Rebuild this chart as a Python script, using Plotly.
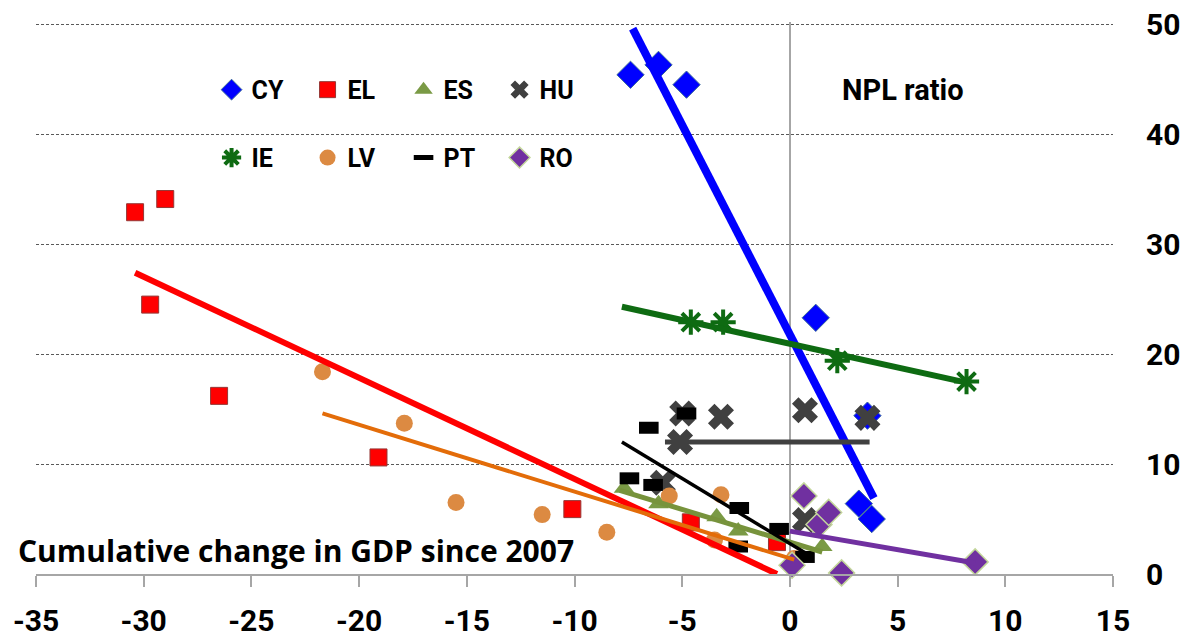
import plotly.graph_objects as go

# Cumulative change in GDP since 2007 (%) and NPL ratio (%), by country
cy_gdp = [-7.4, -6.1, -4.8, 1.2, 3.6, 3.2, 3.8]
cy_npl = [45.4, 46.3, 44.5, 23.3, 14.4, 6.4, 5.0]
el_gdp = [-30.4, -29.7, -29.0, -26.5, -19.1, -10.1, -4.6, -0.6]
el_npl = [32.9, 24.5, 34.1, 16.2, 10.6, 5.9, 4.7, 2.9]
es_gdp = [-7.7, -6.1, -3.4, -2.4, 1.5]
es_npl = [7.8, 6.4, 5.2, 3.9, 2.5]
hu_gdp = [-5.9, -5.1, -5.0, -3.2, 0.7, 0.7, 3.6]
hu_npl = [8.3, 12.0, 14.6, 14.3, 14.9, 4.9, 14.2]
ie_gdp = [-4.6, -3.1, 2.2, 8.2]
ie_npl = [22.9, 22.9, 19.4, 17.5]
lv_gdp = [-21.7, -17.9, -15.5, -11.5, -8.5, -5.6, -3.2, -3.5, 0.2]
lv_npl = [18.4, 13.7, 6.5, 5.4, 3.8, 7.1, 7.2, 3.1, 1.4]
pt_gdp = [-7.45, -6.55, -6.35, -4.8, -2.35, -2.4, -0.5, 0.7]
pt_npl = [8.7, 13.3, 8.1, 14.6, 6.0, 2.5, 4.1, 1.55]
ro_gdp = [0.1, 0.65, 1.35, 1.8, 2.4, 8.6]
ro_npl = [0.8, 7.1, 4.5, 5.6, 0.1, 1.1]

# Linear trend lines (start / end) for each country
cy_fit_gdp, cy_fit_npl = [-7.3, 3.9], [49.6, 6.9]
el_fit_gdp, el_fit_npl = [-30.4, -0.6], [27.4, 0.0]
es_fit_gdp, es_fit_npl = [-7.9, 1.5], [7.6, 2.0]
hu_fit_gdp, hu_fit_npl = [-5.8, 3.7], [12.0, 12.0]
ie_fit_gdp, ie_fit_npl = [-7.8, 8.2], [24.3, 17.4]
lv_fit_gdp, lv_fit_npl = [-21.7, 0.2], [14.6, 1.3]
pt_fit_gdp, pt_fit_npl = [-7.8, 0.9], [12.0, 1.7]
ro_fit_gdp, ro_fit_npl = [0.0, 8.6], [3.9, 1.0]

x_ticks = [-35, -30, -25, -20, -15, -10, -5, 0, 5, 10, 15]
y_ticks = [0, 10, 20, 30, 40, 50]

FONT = "Roboto"

fig = go.Figure()

series = [
    ("CY", cy_gdp, cy_npl, "legend",
     dict(symbol="diamond", size=21, color="#0000FF", line=dict(color="#3A6A9A", width=1))),
    ("EL", el_gdp, el_npl, "legend",
     dict(symbol="square", size=17, color="#FF0000", line=dict(color="#953735", width=1))),
    ("ES", es_gdp, es_npl, "legend",
     dict(symbol="triangle-up", size=18, color="#7A9A45", line=dict(width=0))),
    ("HU", hu_gdp, hu_npl, "legend",
     dict(symbol="x", size=23, color="#404040", line=dict(width=0))),
    ("IE", ie_gdp, ie_npl, "legend2",
     dict(symbol="asterisk-open", size=21, color="#0E6B12", line=dict(color="#0E6B12", width=4))),
    ("LV", lv_gdp, lv_npl, "legend2",
     dict(symbol="circle", size=17, color="#DC8A42", line=dict(width=0))),
    ("PT", pt_gdp, pt_npl, "legend2",
     dict(symbol="line-ew-open", size=14, color="#000000", line=dict(color="#000000", width=12))),
    ("RO", ro_gdp, ro_npl, "legend2",
     dict(symbol="diamond", size=20, color="#7030A0", line=dict(color="#C3D69B", width=1.5))),
]

for name, xs, ys, leg, mk in series:
    fig.add_trace(go.Scatter(
        x=xs, y=ys, mode="markers", name=name, marker=mk,
        legend=leg, cliponaxis=False, hoverinfo="skip",
    ))

fits = [
    (cy_fit_gdp, cy_fit_npl, "#0000FF", 8),
    (el_fit_gdp, el_fit_npl, "#FF0000", 6),
    (es_fit_gdp, es_fit_npl, "#77933C", 5),
    (hu_fit_gdp, hu_fit_npl, "#404040", 5),
    (ie_fit_gdp, ie_fit_npl, "#0E6B12", 6),
    (lv_fit_gdp, lv_fit_npl, "#E36C09", 4),
    (pt_fit_gdp, pt_fit_npl, "#000000", 3.5),
    (ro_fit_gdp, ro_fit_npl, "#7030A0", 5),
]
for xs, ys, col, w in fits:
    fig.add_trace(go.Scatter(
        x=xs, y=ys, mode="lines", line=dict(color=col, width=w),
        showlegend=False, hoverinfo="skip", cliponaxis=False,
    ))

legend_style = dict(
    orientation="h", xanchor="left", yanchor="middle",
    entrywidth=51, entrywidthmode="pixels",
    font=dict(family=FONT, size=25, color="black", weight="bold"),
    bgcolor="rgba(0,0,0,0)", borderwidth=0, itemclick=False,
    itemdoubleclick=False, traceorder="normal",
)

fig.update_layout(
    width=1187, height=637,
    margin=dict(l=36, r=74, t=22, b=63),
    paper_bgcolor="white", plot_bgcolor="white",
    showlegend=True,
    legend=dict(legend_style, x=0.163, y=0.877),
    legend2=dict(legend_style, x=0.163, y=0.754),
    xaxis=dict(
        range=[-35, 15], tickvals=x_ticks, ticktext=[str(v) for v in x_ticks],
        automargin=False,
        showgrid=False, zeroline=True, zerolinecolor="#A6A6A6", zerolinewidth=1.5,
        showline=True, linecolor="#A6A6A6", linewidth=1.5,
        ticks="outside", ticklen=11, tickcolor="#A6A6A6", tickwidth=1.5,
        tickfont=dict(family=FONT, size=30, color="black", weight="bold"),
        ticklabelstandoff=8,
    ),
    yaxis=dict(
        range=[0, 50.2], tickvals=y_ticks, ticktext=[str(v) for v in y_ticks],
        automargin=False,
        side="right", showline=False, zeroline=False, ticks="",
        showgrid=True, gridcolor="#595959", gridwidth=1, griddash="3px,2px",
        tickfont=dict(family=FONT, size=30, color="black", weight="bold"),
        ticklabelstandoff=32,
    ),
    annotations=[
        dict(text="NPL ratio", x=5.26, y=44.0, xref="x", yref="y",
             showarrow=False, xanchor="center", yanchor="middle",
             font=dict(family=FONT, size=29, color="black", weight="bold")),
        dict(text="Cumulative change in GDP since 2007", x=-0.0186, y=2.1,
             xref="paper", yref="y", showarrow=False, xanchor="left", yanchor="middle",
             font=dict(family="Open Sans", size=30, color="black", weight="bold")),
    ],
)

fig.write_html("out.html")
